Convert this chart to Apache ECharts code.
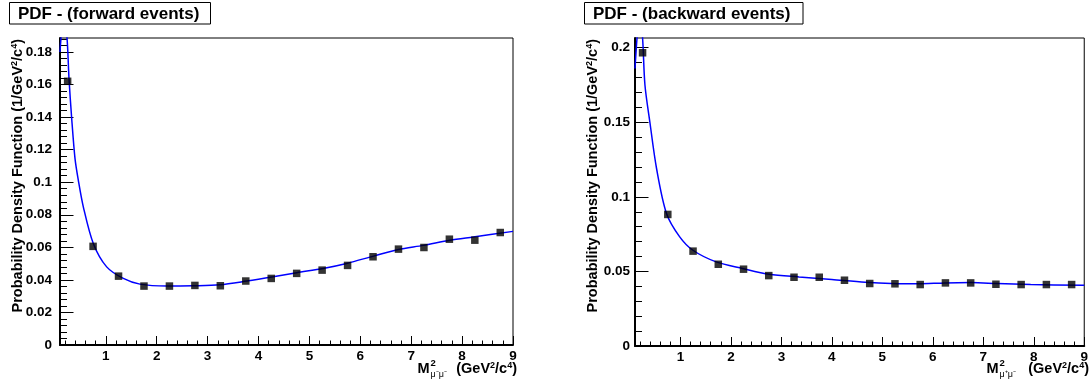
<!DOCTYPE html>
<html><head><meta charset="utf-8">
<script src="https://cdn.jsdelivr.net/npm/echarts@6/dist/echarts.min.js"></script>
<style>html,body{margin:0;padding:0;background:#fff}#c{width:1091px;height:389px}</style>
</head><body><div id="c"></div>
<script>
// ---- data ----
const binCenters = [0.25,0.75,1.25,1.75,2.25,2.75,3.25,3.75,4.25,4.75,5.25,5.75,6.25,6.75,7.25,7.75,8.25,8.75];
const fwdValues = [0.162,0.0606,0.0423,0.0362,0.0362,0.0366,0.0364,0.0393,0.0409,0.044,0.046,0.0489,0.0542,0.0589,0.0599,0.065,0.0644,0.0691];
const bwdValues = [0.1966,0.0882,0.0636,0.0548,0.0515,0.0472,0.0461,0.0461,0.0441,0.0419,0.0417,0.0412,0.0423,0.0423,0.0414,0.0412,0.0412,0.0412];
// fitted curves
const fwdFitX = [0.1,0.12,0.17,0.238,0.277,0.33,0.395,0.46,0.558,0.754,1.017,1.344,1.67,2.196,2.72,3.24,3.77,4.29,4.75,5.27,5.73,6.26,6.75,7.24,7.76,8.22,9.0];
const fwdFitY = [0.18,0.1886,0.205,0.1886,0.1636,0.139,0.1145,0.1012,0.0849,0.0624,0.048,0.0409,0.0374,0.0362,0.0364,0.037,0.0393,0.0419,0.0444,0.047,0.0501,0.0546,0.0587,0.0612,0.0644,0.0664,0.0698];
const bwdFitX = [0.1,0.14,0.19,0.25,0.297,0.395,0.527,0.724,0.986,1.248,1.708,2.23,2.76,3.35,4.0,4.66,5.18,5.7,6.24,6.76,7.27,7.94,9.0];
const bwdFitY = [0.186,0.2065,0.225,0.2065,0.175,0.150,0.119,0.0889,0.0732,0.0642,0.0564,0.052,0.0481,0.0463,0.0446,0.0428,0.0419,0.0417,0.0423,0.0425,0.0419,0.0412,0.0407];
// ticks
const xMajor = [1,2,3,4,5,6,7,8,9];
const xMinor = [0.2,0.4,0.6,0.8,1.2,1.4,1.6,1.8,2.2,2.4,2.6,2.8,3.2,3.4,3.6,3.8,4.2,4.4,4.6,4.8,5.2,5.4,5.6,5.8,6.2,6.4,6.6,6.8,7.2,7.4,7.6,7.8,8.2,8.4,8.6,8.8];
const yFwdMajor = [0,0.02,0.04,0.06,0.08,0.1,0.12,0.14,0.16,0.18];
const yFwdMinor = [0.004,0.008,0.012,0.016,0.024,0.028,0.032,0.036,0.044,0.048,0.052,0.056,0.064,0.068,0.072,0.076,0.084,0.088,0.092,0.096,0.104,0.108,0.112,0.116,0.124,0.128,0.132,0.136,0.144,0.148,0.152,0.156,0.164,0.168,0.172,0.176,0.184,0.188];
const yBwdMajor = [0,0.05,0.1,0.15,0.2];
const yBwdMinor = [0.01,0.02,0.03,0.04,0.06,0.07,0.08,0.09,0.11,0.12,0.13,0.14,0.16,0.17,0.18,0.19];
const X_MIN = 0.1, X_MAX = 9, YF_MAX = 0.1886, YB_MAX = 0.2065;

const FONT = '"Liberation Sans", Arial, sans-serif';
const chart = echarts.init(document.getElementById('c'), null, {renderer:'canvas'});

function pair(xs, ys){ return xs.map((x,i)=>[x,ys[i]]); }

function xAxes(gi){
  return [
    {gridIndex:gi, type:'value', min:X_MIN, max:X_MAX, position:'bottom',
     axisLine:{show:true, lineStyle:{color:'#000', width:2}},
     axisTick:{show:true, inside:true, length:9, customValues:xMajor, lineStyle:{color:'#000', width:1}},
     axisLabel:{show:true, customValues:xMajor, margin:4, color:'#000', fontFamily:FONT, fontWeight:'bold', fontSize:13.5,
       formatter:v=>String(v)},
     splitLine:{show:false}},
    {gridIndex:gi, type:'value', min:X_MIN, max:X_MAX, position:'bottom',
     axisLine:{show:false},
     axisTick:{show:true, inside:true, length:4.5, customValues:xMinor, lineStyle:{color:'#000', width:1}},
     axisLabel:{show:false}, splitLine:{show:false}}
  ];
}
function yAxes(gi, max, major, minor, margin){
  return [
    {gridIndex:gi, type:'value', min:0, max:max, position:'left',
     axisLine:{show:true, lineStyle:{color:'#000', width:2}},
     axisTick:{show:true, inside:true, length:13.5, customValues:major, lineStyle:{color:'#000', width:1}},
     axisLabel:{show:true, customValues:major, margin:margin, color:'#000', fontFamily:FONT, fontWeight:'bold', fontSize:13.5,
       formatter:v=>String(+v.toFixed(3))},
     splitLine:{show:false}},
    {gridIndex:gi, type:'value', min:0, max:max, position:'left',
     axisLine:{show:false},
     axisTick:{show:true, inside:true, length:7, customValues:minor, lineStyle:{color:'#000', width:1}},
     axisLabel:{show:false}, splitLine:{show:false}}
  ];
}

function boxTitle(x, w, txt){
  return [
    {type:'rect', shape:{x:x, y:2.5, width:w, height:21.5}, style:{fill:'#fff', stroke:'#000', lineWidth:1}, z:10},
    {type:'text', x:x+8.5, y:14, style:{text:txt, fill:'#000', font:'bold 17px '+FONT, verticalAlign:'middle', align:'left'}, z:11}
  ];
}
const supStyle = {fontSize:9, fontWeight:'bold', fontFamily:FONT, verticalAlign:'top', fill:'#000'};
function yTitle(x){
  return {type:'text', x:x, y:39, rotation:Math.PI/2, z:11,
    style:{text:'Probability Density Function (1/GeV{s|2}/c{s|4})', fill:'#000', fontSize:14.5, fontWeight:'bold', fontFamily:FONT,
      align:'right', verticalAlign:'middle', rich:{s:supStyle}}};
}
function xTitle(right, mRight, sub){
  return [
    {type:'text', x:right, y:369, z:11, style:{text:'(GeV{s|2}/c{s|4})', fill:'#000', fontSize:14.5, fontWeight:'bold', fontFamily:FONT,
      align:'right', verticalAlign:'middle', rich:{s:supStyle}}},
    {type:'text', x:mRight, y:369, z:11, style:{text:'M', fill:'#000', font:'bold 14.5px '+FONT, align:'right', verticalAlign:'middle'}},
    {type:'text', x:mRight+1, y:363, z:11, style:{text:'2', fill:'#000', font:'bold 9.5px '+FONT, align:'left', verticalAlign:'middle'}},
    {type:'text', x:mRight+1, y:374.5, z:11, style:{text:sub, fill:'#000', font:'9px '+FONT, align:'left', verticalAlign:'middle'}}
  ];
}

const option = {
  backgroundColor:'#fff',
  animation:false,
  grid:[
    {left:60, top:38, width:453, height:307, show:true, borderColor:'#000', borderWidth:1, backgroundColor:'transparent'},
    {left:635, top:38, width:452.5, height:308, show:true, borderColor:'#000', borderWidth:1, backgroundColor:'transparent'}
  ],
  xAxis:[...xAxes(0), ...xAxes(1)],
  yAxis:[...yAxes(0, YF_MAX, yFwdMajor, yFwdMinor, 8), ...yAxes(1, YB_MAX, yBwdMajor, yBwdMinor, 5)],
  series:[
    {type:'line', xAxisIndex:0, yAxisIndex:0, data:pair(fwdFitX, fwdFitY), smooth:0.3, showSymbol:false, clip:true,
     lineStyle:{color:'#0000ff', width:1.5}, z:3},
    {type:'scatter', xAxisIndex:0, yAxisIndex:0, data:pair(binCenters, fwdValues), symbol:'rect', symbolSize:7.5,
     itemStyle:{color:'#000'}, z:4},
    {type:'line', xAxisIndex:2, yAxisIndex:2, data:pair(bwdFitX, bwdFitY), smooth:0.3, showSymbol:false, clip:true,
     lineStyle:{color:'#0000ff', width:1.5}, z:3},
    {type:'scatter', xAxisIndex:2, yAxisIndex:2, data:pair(binCenters, bwdValues), symbol:'rect', symbolSize:7.5,
     itemStyle:{color:'#000'}, z:4}
  ],
  graphic:[
    ...boxTitle(9.5, 201, 'PDF - (forward events)'),
    ...boxTitle(584.5, 218.5, 'PDF - (backward events)'),
    yTitle(18), yTitle(593),
    ...xTitle(517, 429.5, 'μ⁻μ⁻'),
    ...xTitle(1089, 998.5, 'μ⁺μ⁻')
  ]
};
chart.setOption(option);
</script></body></html>
